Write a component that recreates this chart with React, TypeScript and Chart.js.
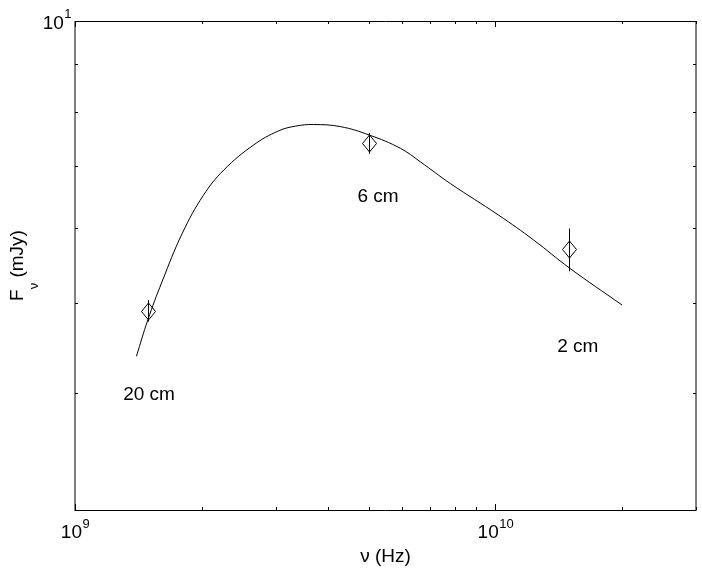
import React, { useEffect, useRef } from "react";
import { Chart, registerables } from "chart.js";

Chart.register(...registerables);

// Model curve (frequency in GHz, flux density in mJy)
const curveFreqGHz = [1.40, 1.49, 1.61, 1.80, 2.02, 2.26, 2.66, 3.05, 3.35, 3.69, 4.28, 5.02, 5.94, 6.63, 7.82, 10.18, 12.34, 15.03, 20.0];
const curveFlux = [4.38, 4.79, 5.26, 5.93, 6.51, 6.93, 7.37, 7.63, 7.72, 7.75, 7.71, 7.55, 7.31, 7.07, 6.70, 6.20, 5.83, 5.44, 4.97];

// Observations
const obsFreqGHz = [1.49, 5.0, 15.0];
const obsFlux = [4.9, 7.4, 5.7];
const obsErr = [0.13, 0.19, 0.3];
const obsLabels = ["20 cm", "6 cm", "2 cm"];
const labelFreqGHz = [1.5, 5.26, 15.7];
const labelFlux = [3.98, 6.48, 4.48];

// Axes
const xMin = 1e9;
const xMax = 3e10;
const yMin = 3;
const yMax = 10;
const xMajorExp = [9, 10];
const yMajorExp = [1];
const xTitle = "ν (Hz)";
const yTitleMain = "F";
const yTitleSub = "ν";
const yTitleRest = " (mJy)";

const FONT = "'Liberation Sans', Arial, Helvetica, sans-serif";

const decorPlugin = {
  id: "decor",
  afterDatasetsDraw(chart: any) {
    const { ctx, scales } = chart;
    const xs = scales.x;
    const ys = scales.y;
    const meta = chart.getDatasetMeta(1);
    ctx.save();
    ctx.strokeStyle = "#000";
    ctx.lineWidth = 1;
    meta.data.forEach((pt: any, i: number) => {
      const px = Math.round(pt.x) + 0.5;
      const py = Math.round(pt.y) + 0.5;
      const t = ys.getPixelForValue(obsFlux[i] + obsErr[i]);
      const b = ys.getPixelForValue(obsFlux[i] - obsErr[i]);
      ctx.beginPath();
      ctx.moveTo(px, t);
      ctx.lineTo(px, b);
      ctx.stroke();
      ctx.beginPath();
      ctx.moveTo(px, py - 8.5);
      ctx.lineTo(px + 7, py);
      ctx.lineTo(px, py + 8.5);
      ctx.lineTo(px - 7, py);
      ctx.closePath();
      ctx.stroke();
    });
    ctx.restore();
  },
  afterDraw(chart: any) {
    const { ctx, chartArea, scales } = chart;
    const xs = scales.x;
    const ys = scales.y;
    const L = chartArea.left, R = chartArea.right, T = chartArea.top, B = chartArea.bottom;
    ctx.save();
    ctx.strokeStyle = "#000";
    ctx.lineWidth = 1;
    // box
    ctx.beginPath();
    ctx.moveTo(L, T + 0.5);
    ctx.lineTo(R, T + 0.5);
    ctx.moveTo(L, B + 0.5);
    ctx.lineTo(R, B + 0.5);
    ctx.moveTo(L, T);
    ctx.lineTo(L, B + 1);
    ctx.moveTo(R, T);
    ctx.lineTo(R, B + 1);
    ctx.stroke();

    // x ticks
    for (let e = 9; e <= 10; e++) {
      for (let m = 1; m <= 9; m++) {
        const v = m * Math.pow(10, e);
        if (v < xMin || v > xMax) continue;
        const px = Math.round(xs.getPixelForValue(v)) + 0.5;
        const len = m === 1 ? 6 : 3;
        ctx.beginPath();
        ctx.moveTo(px, B);
        ctx.lineTo(px, B - len);
        ctx.moveTo(px, T);
        ctx.lineTo(px, T + len);
        ctx.stroke();
      }
    }
    // y ticks
    for (let m = 3; m <= 10; m++) {
      const py = Math.round(ys.getPixelForValue(m)) + 0.5;
      const len = m === 10 ? 6 : 3;
      ctx.beginPath();
      ctx.moveTo(L, py);
      ctx.lineTo(L + len, py);
      ctx.moveTo(R, py);
      ctx.lineTo(R - len, py);
      ctx.stroke();
    }

    ctx.fillStyle = "#000";
    const mainFont = `19px ${FONT}`;
    const supFont = `13px ${FONT}`;
    const measure = (s: string, f: string) => {
      ctx.font = f;
      return ctx.measureText(s).width;
    };
    // x tick labels
    xMajorExp.forEach((e) => {
      const px = xs.getPixelForValue(Math.pow(10, e));
      const w1 = measure("10", mainFont);
      const w2 = measure(String(e), supFont);
      const x0 = px - (w1 + w2) / 2;
      ctx.textAlign = "left";
      ctx.textBaseline = "alphabetic";
      ctx.font = mainFont;
      ctx.fillText("10", x0, B + 28);
      ctx.font = supFont;
      ctx.fillText(String(e), x0 + w1 + 0.5, B + 18);
    });
    // y tick labels
    yMajorExp.forEach((e) => {
      const py = ys.getPixelForValue(Math.pow(10, e));
      const w1 = measure("10", mainFont);
      const w2 = measure(String(e), supFont);
      const xr = L - 4;
      ctx.textAlign = "left";
      ctx.textBaseline = "alphabetic";
      ctx.font = mainFont;
      ctx.fillText("10", xr - w1 - w2, py + 8);
      ctx.font = supFont;
      ctx.fillText(String(e), xr - w2 + 0.5, py - 3);
    });

    // x title
    ctx.font = mainFont;
    ctx.textAlign = "center";
    ctx.textBaseline = "alphabetic";
    ctx.fillText(xTitle, (L + R) / 2, B + 52);

    // y title rotated
    ctx.save();
    ctx.translate(23, (T + B) / 2);
    ctx.rotate(-Math.PI / 2);
    const wF = measure(yTitleMain, mainFont);
    const wS = measure(yTitleSub, supFont);
    const wR = measure(yTitleRest, mainFont);
    const total = wF + wS + wR;
    let cx = -total / 2;
    ctx.textAlign = "left";
    ctx.font = mainFont;
    ctx.fillText(yTitleMain, cx, 0);
    cx += wF;
    ctx.font = supFont;
    ctx.fillText(yTitleSub, cx, 15);
    cx += wS;
    ctx.font = mainFont;
    ctx.fillText(yTitleRest, cx, 0);
    ctx.restore();

    // annotations
    ctx.font = mainFont;
    ctx.textAlign = "center";
    ctx.textBaseline = "middle";
    obsLabels.forEach((s, i) => {
      const px = xs.getPixelForValue(labelFreqGHz[i] * 1e9);
      const py = ys.getPixelForValue(labelFlux[i]);
      ctx.fillText(s, px, py);
    });
    ctx.restore();
  },
};

export default function App() {
  const ref = useRef<HTMLCanvasElement | null>(null);
  useEffect(() => {
    if (!ref.current) return;
    const chart = new Chart(ref.current, {
      type: "scatter",
      data: {
        datasets: [
          {
            type: "line",
            data: curveFreqGHz.map((f, i) => ({ x: f * 1e9, y: curveFlux[i] })),
            borderColor: "#000",
            borderWidth: 1,
            pointRadius: 0,
            tension: 0.4,
            fill: false,
          } as any,
          {
            type: "scatter",
            data: obsFreqGHz.map((f, i) => ({ x: f * 1e9, y: obsFlux[i] })),
            pointRadius: 0,
            borderColor: "#000",
            backgroundColor: "rgba(0,0,0,0)",
          },
        ],
      },
      options: {
        animation: false,
        responsive: false,
        maintainAspectRatio: false,
        events: [],
        layout: { padding: { left: 75, right: 6, top: 21, bottom: 58 } },
        plugins: { legend: { display: false }, tooltip: { enabled: false } },
        scales: {
          x: { type: "logarithmic", min: xMin, max: xMax, display: false },
          y: { type: "logarithmic", min: yMin, max: yMax, display: false },
        },
      },
      plugins: [decorPlugin],
    });
    return () => chart.destroy();
  }, []);
  return (
    <div style={{ position: "fixed", left: 0, top: 0, width: 702, height: 568, background: "#fff" }}>
      <canvas ref={ref} width={702} height={568} style={{ display: "block" }} />
    </div>
  );
}
